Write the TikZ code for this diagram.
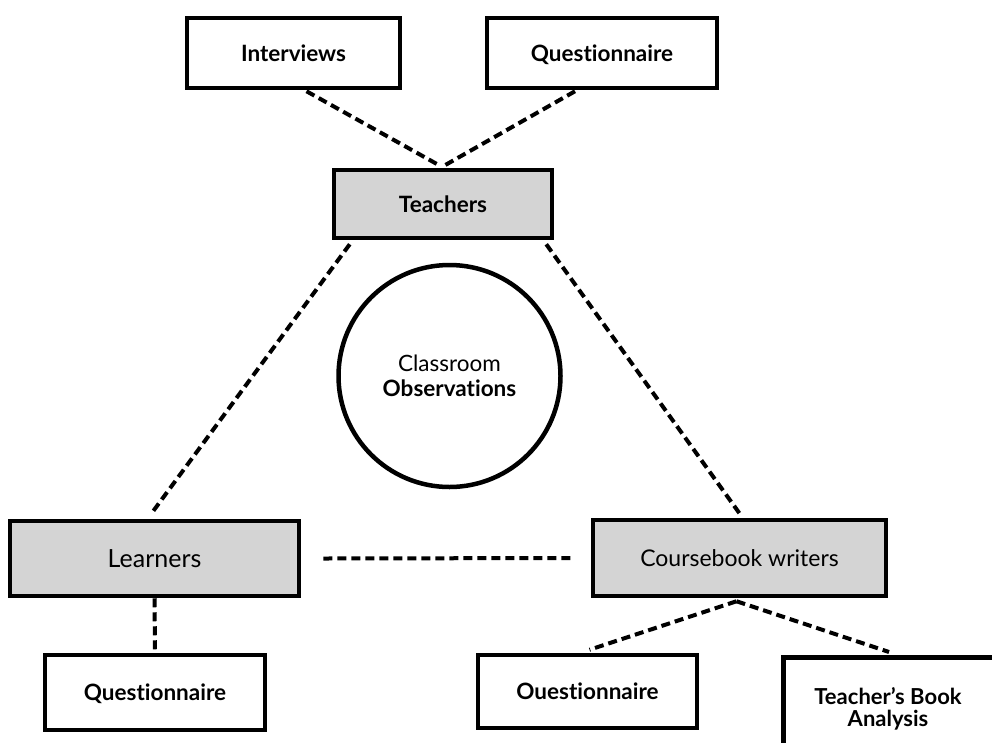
\documentclass[tikz,border=0pt]{standalone}
\usepackage{fontspec}
\setmainfont[Ligatures={NoCommon,NoDiscretionary,NoRare}]{Lato}
\usetikzlibrary{calc}
\tikzset{
  box/.style={draw=black, line width=4.5pt, fill=white, minimum width=#1, minimum height=70pt, inner sep=0pt, align=center, text height=16pt, text depth=0pt, font=\fontsize{22.5}{24}\selectfont\bfseries},
  box/.default=214pt,
  graybox/.style={box=#1, fill=boxgray},
  conn/.style={line width=4pt, dash pattern=on 9pt off 5pt},
}
\definecolor{boxgray}{HTML}{D4D4D4}
\begin{document}
\begin{tikzpicture}[x=1pt,y=-1pt]
\useasboundingbox (0,0) rectangle (992,742);
\clip (0,0) rectangle (992,742);
% top boxes
\node[box=213pt] (intv) at (293.5,53) {Interviews};
\node[box=230pt] (qtop) at (602,53) {Questionnaire};
\node[graybox=218pt, minimum height=68pt] (teach) at (443,204) {Teachers};
% circle
\node[draw, line width=4.5pt, circle, minimum size=222pt, inner sep=0pt, align=center, font=\fontsize{22.5}{25}\selectfont] (obs) at (449.5,376) {Classroom\\\textbf{Observations}};
% middle gray boxes
\node[graybox=289pt, minimum height=75pt, text height=18pt, font=\fontsize{25}{26}\selectfont] (learn) at (154.5,558.5) {Learners};
\node[graybox=293pt, minimum height=76pt, font=\fontsize{23}{24}\selectfont] (cbw) at (739.5,558) {Coursebook writers};
% bottom boxes
\node[box=220pt, minimum height=75pt] (qleft) at (155,692.5) {Questionnaire};
\node[box=219pt, minimum height=73pt] (qright) at (587.5,691.5) {Ouestionnaire};
\node[box=214pt, minimum height=125pt, anchor=north west] (tba) at (781,655) {};
\node[font=\fontsize{22}{22.5}\selectfont\bfseries, align=center] (tbatext) at (888,709) {Teacher’s Book\\Analysis};
% connectors
\coordinate (tTop) at ($(teach.north)+(-3,-2)$);
\coordinate (cBot) at ($(cbw.south)+(-3,3)$);
\draw[conn] ($(intv.south)+(13,1)$) -- (tTop);
\draw[conn] ($(qtop.south)+(-27,1)$) -- ($(teach.north)+(1,-2)$);
\draw[conn] ($(teach.south west)+(18,4)$) -- ($(learn.north)+(-4,-4)$);
\draw[conn] ($(teach.south east)+(-8,4)$) -- ($(cbw.north)+(1,-3)$);
\draw[conn] ($(learn.east)+(22,0)$) -- ($(cbw.west)+(-18,0)$);
\draw[conn] (learn.south) -- (qleft.north);
\draw[conn] (cBot) -- ($(qright.north)+(2,-3)$);
\draw[conn] (cBot) -- ($(tba.north west)+(108,-3)$);
\end{tikzpicture}
\end{document}
